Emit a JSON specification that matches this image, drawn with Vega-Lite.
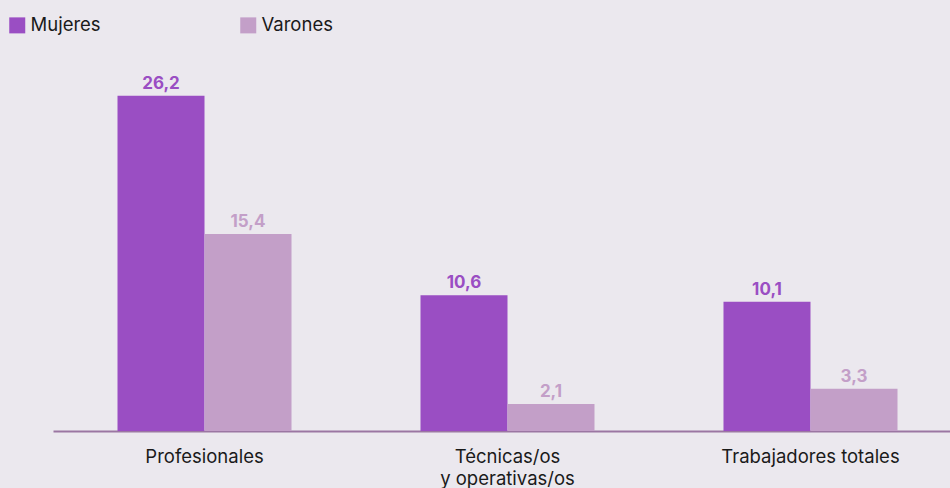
{
  "$schema": "https://vega.github.io/schema/vega-lite/v6.json",
  "width": 909,
  "height": 384,
  "autosize": "none",
  "padding": {"left": 53, "top": 47, "right": 0, "bottom": 57},
  "background": "#ebe8ee",
  "config": {
    "view": {"stroke": null},
    "font": "Inter"
  },
  "data": {
    "values": [
      {"categoria": "Profesionales", "sexo": "Mujeres", "valor": 26.2, "etiqueta": "26,2"},
      {"categoria": "Profesionales", "sexo": "Varones", "valor": 15.4, "etiqueta": "15,4"},
      {"categoria": "Técnicas/os y operativas/os", "sexo": "Mujeres", "valor": 10.6, "etiqueta": "10,6"},
      {"categoria": "Técnicas/os y operativas/os", "sexo": "Varones", "valor": 2.1, "etiqueta": "2,1"},
      {"categoria": "Trabajadores totales", "sexo": "Mujeres", "valor": 10.1, "etiqueta": "10,1"},
      {"categoria": "Trabajadores totales", "sexo": "Varones", "valor": 3.3, "etiqueta": "3,3"}
    ]
  },
  "encoding": {
    "x": {
      "field": "categoria",
      "type": "nominal",
      "sort": null,
      "title": null,
      "scale": {"paddingInner": 0.4257, "paddingOuter": 0.2129},
      "axis": {
        "labelAngle": 0,
        "labelFontSize": 18.5,
        "labelColor": "#1a1a1a",
        "labelPadding": 16,
        "labelBaseline": "top",
        "labelLineHeight": 22,
        "ticks": false,
        "domainColor": "#9b76a2",
        "domainWidth": 2,
        "labelExpr": "datum.label == 'Técnicas/os y operativas/os' ? ['Técnicas/os', 'y operativas/os'] : datum.label"
      }
    },
    "xOffset": {"field": "sexo", "type": "nominal", "scale": {"paddingInner": 0, "paddingOuter": 0}},
    "y": {
      "field": "valor",
      "type": "quantitative",
      "scale": {"domain": [0, 30]},
      "axis": null
    },
    "color": {
      "field": "sexo",
      "type": "nominal",
      "scale": {"domain": ["Mujeres", "Varones"], "range": ["#9a4ec3", "#c39fc8"]},
      "legend": {
        "title": null,
        "orient": "none",
        "legendX": -45,
        "legendY": -31,
        "direction": "horizontal",
        "padding": 0,
        "symbolType": "square",
        "symbolSize": 256,
        "symbolStrokeWidth": 0,
        "symbolOpacity": 1,
        "labelFontSize": 18.5,
        "labelColor": "#1a1a1a",
        "labelOffset": 4,
        "columnPadding": 138,
        "gridAlign": "each"
      }
    }
  },
  "layer": [
    {"mark": {"type": "bar", "opacity": 1}},
    {
      "mark": {"type": "text", "fontSize": 17, "fontWeight": "bold", "baseline": "alphabetic", "dy": -7},
      "encoding": {
        "text": {"field": "etiqueta"},
        "color": {"field": "sexo", "type": "nominal", "legend": null, "scale": {"domain": ["Mujeres", "Varones"], "range": ["#9a4ec3", "#c39fc8"]}}
      }
    }
  ]
}
